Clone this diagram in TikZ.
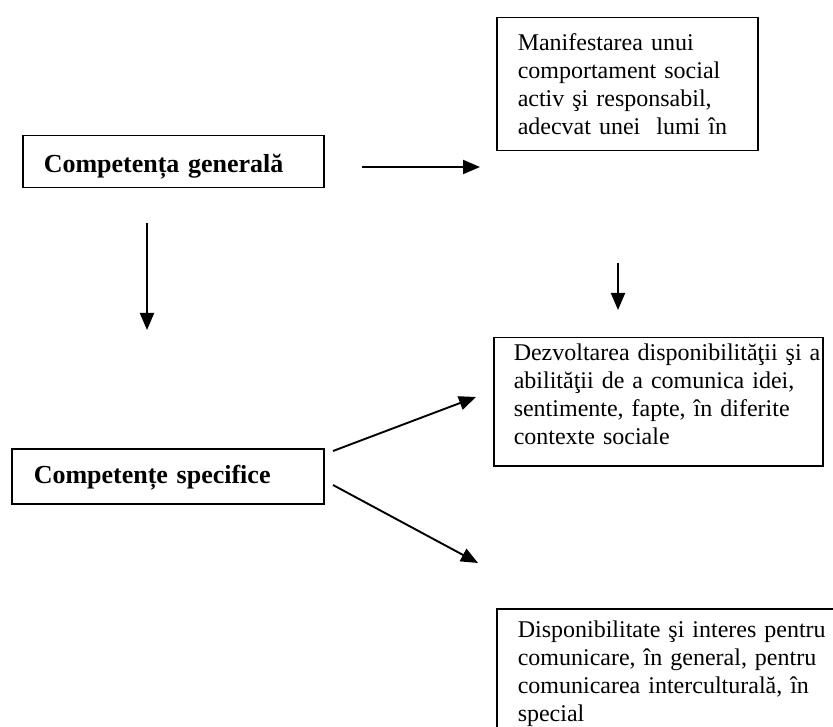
\documentclass[tikz,border=0pt]{standalone}
\usepackage{fontspec}
\setmainfont{Liberation Serif}
\usetikzlibrary{arrows.meta}
\newcommand\padtext[2]{\hspace*{#1}\parbox[t]{320pt}{\raggedright #2}}
\tikzset{
  box/.style={draw, line width=1.5pt, anchor=north west, inner sep=0pt,
    font=\fontsize{24}{28}\selectfont},
  headbox/.style={draw, line width=1.5pt, anchor=north west, inner sep=0pt,
    font=\fontsize{26}{30}\selectfont\bfseries},
  conn/.style={line width=1.9pt, -{Triangle[length=17pt,width=14pt]}}
}
\begin{document}
\begin{tikzpicture}[x=1pt,y=-1pt]
\useasboundingbox (0,0) rectangle (833,727);
% boxes
\node[headbox, text width=301pt, text height=37pt, text depth=15pt] (gen) at (22,135)
  {\padtext{21pt}{Competența generală}};
\node[headbox, text width=312pt, text height=35pt, text depth=20pt] (spec) at (11,448)
  {\padtext{22pt}{Competențe specifice}};
\node[box, text width=261pt, text height=33pt, text depth=100pt] (manif) at (496,17)
  {\padtext{21pt}{Manifestarea unui\\comportament social\\activ şi responsabil,\\adecvat unei~ lumi în}};
\node[box, text width=329pt, text height=23pt, text depth=105pt] (dezv) at (493,337)
  {\padtext{20pt}{Dezvoltarea disponibilităţii şi a\\abilităţii de a comunica idei,\\sentimente, fapte, în diferite\\contexte sociale}};
\node[box, text width=360pt, text height=29pt, text depth=130pt] (disp) at (496,608)
  {\padtext{21pt}{Disponibilitate şi interes pentru\\comunicare, în general, pentru\\comunicarea interculturală, în\\special}};
% arrow end points
\coordinate (a1s) at (362,167); \coordinate (a1e) at (480,167);
\coordinate (a2s) at (147,223); \coordinate (a2e) at (147,330);
\coordinate (a3s) at (618,263); \coordinate (a3e) at (618,310);
\coordinate (a4s) at (333,451); \coordinate (a4e) at (476,397);
\coordinate (a5s) at (333,485); \coordinate (a5e) at (478,563);
\draw[conn] (a1s) -- (a1e);
\draw[conn] (a2s) -- (a2e);
\draw[conn] (a3s) -- (a3e);
\draw[conn] (a4s) -- (a4e);
\draw[conn] (a5s) -- (a5e);
\end{tikzpicture}
\end{document}
